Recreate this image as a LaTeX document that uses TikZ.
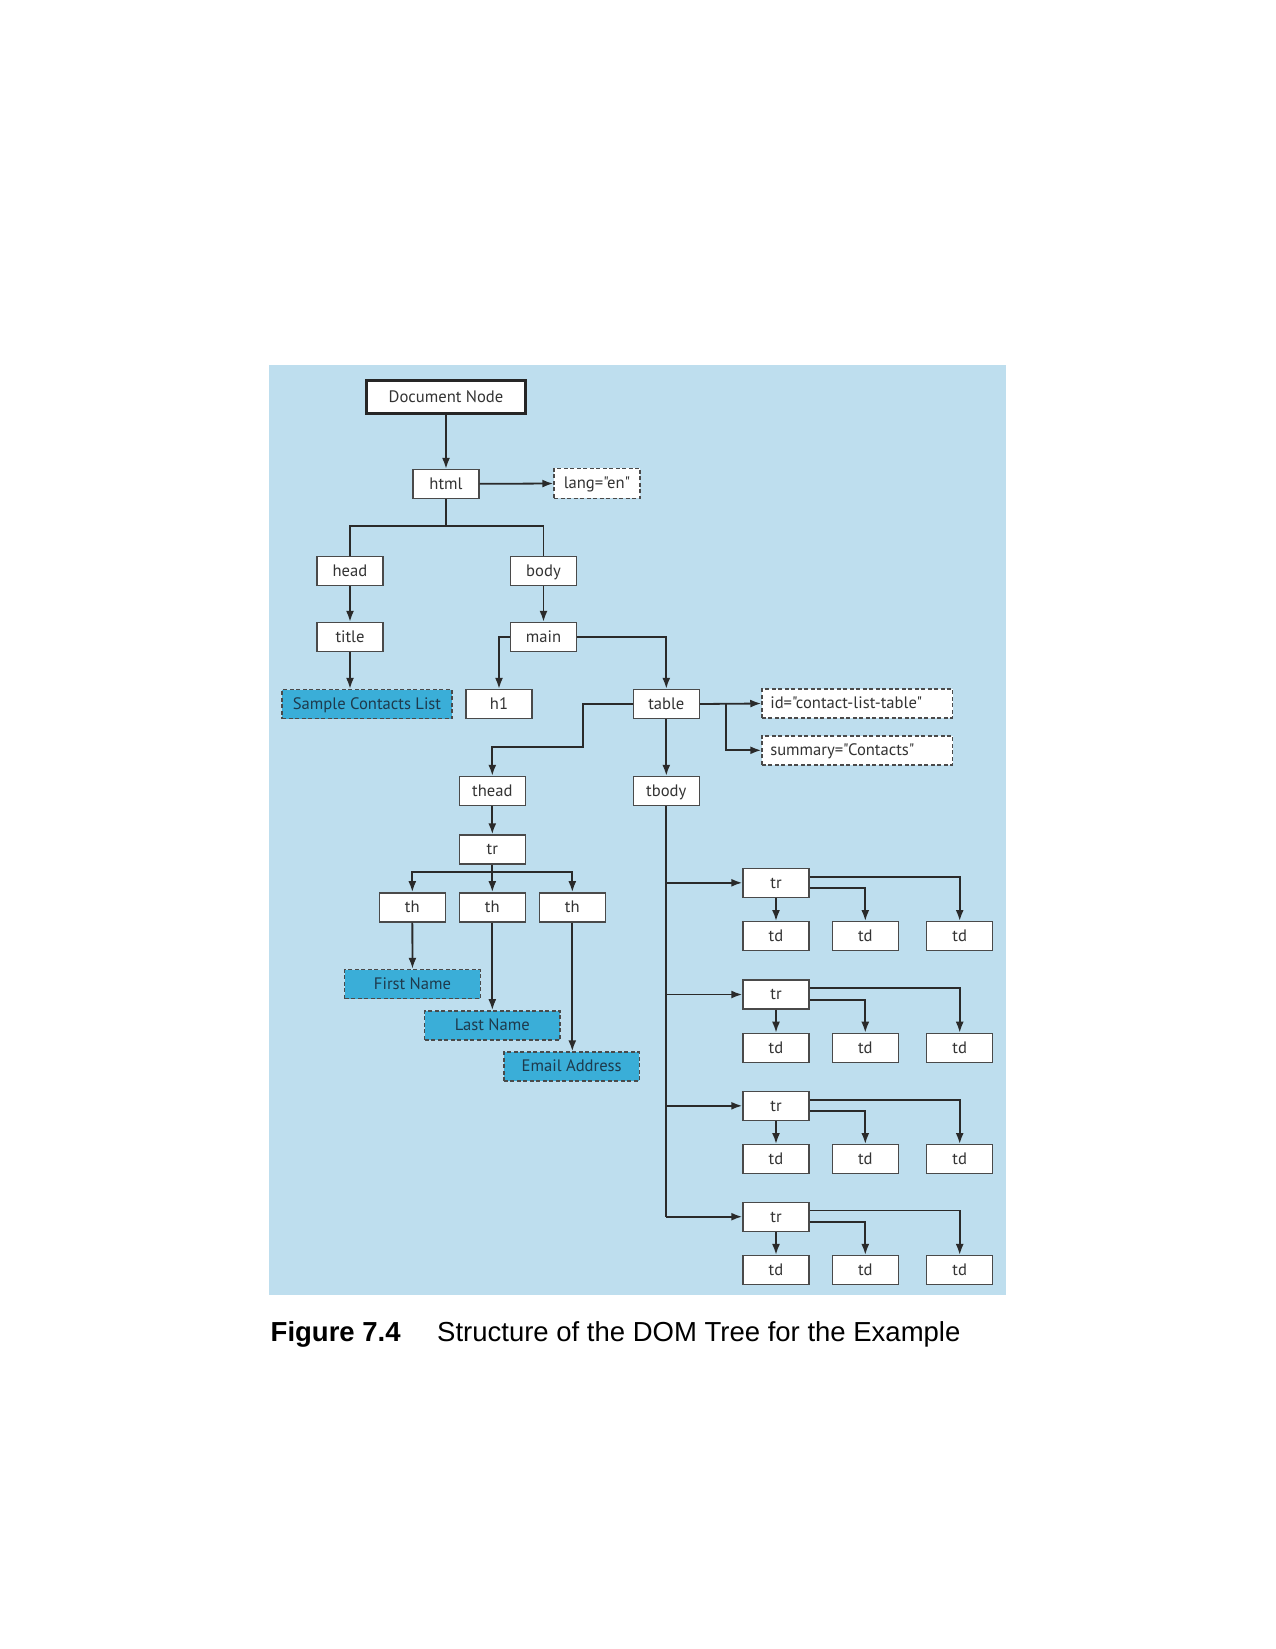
\documentclass[tikz,border=0pt]{standalone}
\usepackage{fontspec}
\setmainfont{Liberation Sans}
\newfontfamily\boxfont{PT Sans}
\usetikzlibrary{arrows.meta}
\definecolor{bgblue}{HTML}{BEDEEE}
\definecolor{hlblue}{HTML}{3AAED8}
\definecolor{boxline}{HTML}{4A4A4A}
\definecolor{linec}{HTML}{2A2A2A}
\definecolor{txtc}{HTML}{333333}
\definecolor{hltxt}{HTML}{1E3A4C}
\tikzset{
  box/.style={draw=boxline, fill=white, line width=1.4pt, minimum width=66pt, minimum height=29pt, inner sep=0pt, text height=12.6pt, text depth=2pt, font=\boxfont\fontsize{16.6}{19}\selectfont, text=txtc},
  attr/.style={box, dash pattern=on 4pt off 2.5pt},
  hl/.style={box, fill=hlblue, dash pattern=on 4pt off 2.5pt, minimum width=135.5pt, text=hltxt},
  conn/.style={draw=linec, line width=1.8pt, -{Latex[length=11pt,width=8pt]}},
  plain/.style={draw=linec, line width=1.8pt}
}
\begin{document}
\begin{tikzpicture}[x=1pt,y=-1pt]
\useasboundingbox (0,0) rectangle (1275,1649);
\fill[bgblue] (268.7,365) rectangle (1006,1295);

% nodes
\node[box, draw=black!85, line width=3pt, minimum width=159pt, minimum height=33pt] (doc) at (446,397) {Document Node};
\node[box] (html) at (446,484) {html};
\node[attr, minimum width=86pt, minimum height=30pt] (lang) at (597,483.3) {lang="en"};
\node[box] (head) at (350,571) {head};
\node[box] (body) at (543.5,571) {body};
\node[box] (title) at (350,637) {title};
\node[box] (main) at (543.5,637) {main};
\node[hl, minimum width=170pt] (scl) at (367,704) {Sample Contacts List};
\node[box] (h1) at (499,704) {h1};
\node[box] (table) at (666.3,704) {table};
\node[attr, minimum width=190.7pt, text width=174pt, align=left] (id) at (857.3,703.5) {id="contact-list-table"};
\node[attr, minimum width=190.7pt, text width=174pt, align=left] (summary) at (857.3,750.3) {summary="Contacts"};
\node[box] (thead) at (492.3,791) {thead};
\node[box] (tbody) at (666.3,791) {tbody};
\node[box] (trh) at (492.3,849.5) {tr};
\node[box] (th1) at (412.3,907.3) {th};
\node[box] (th2) at (492.3,907.3) {th};
\node[box] (th3) at (572.3,907.3) {th};
\node[hl] (fn) at (412.5,984) {First Name};
\node[hl] (ln) at (492.3,1025.3) {Last Name};
\node[hl] (ea) at (571.7,1066.5) {Email Address};

\foreach \i/\y in {1/882.8, 2/994.5, 3/1105.8, 4/1216.7} {
  \node[box] (tr\i) at (776,\y) {tr};
  \node[box] (tda\i) at (776,\y+53.4) {td};
  \node[box] (tdb\i) at (865.3,\y+53.4) {td};
  \node[box] (tdc\i) at (959.7,\y+53.4) {td};
}

% connectors
\draw[conn] (doc) -- (html);
\draw[conn] (html) -- (lang);
\coordinate (hb) at (446,526);
\draw[plain] (html.south) -- (hb) -| (head.north);
\draw[plain] (hb) -| (body.north);
\draw[conn] (head) -- (title);
\draw[conn] (title) -- (scl.north -| title);
\draw[conn] (body) -- (main);
\draw[conn] (main.west) -| (h1.north);
\draw[conn] (main.east) -| (table.north);
\coordinate (tl1) at (582.7,704);
\coordinate (tl2) at (582.7,746.7);
\draw[conn] (table.west) -- (tl1) -- (tl2) -| (thead.north);
\draw[conn] (table.east) -- (id.west);
\coordinate (tb) at (726,704);
\draw[conn] (tb) |- (summary.west);
\draw[conn] (table) -- (tbody);
\draw[conn] (thead) -- (trh);
\coordinate (thb) at (492.3,871.7);
\draw[conn] (trh.south) -- (thb) -| (th1.north);
\draw[conn] (thb) -| (th3.north);
\draw[conn] (thb) -- (th2.north);
\draw[conn] (th1) -- (fn);
\draw[conn] (th2) -- (ln);
\draw[conn] (th3.south) -- (ea.north -| th3);
\coordinate (tbend) at (666.3,1216.7);
\draw[plain] (tbody.south) -- (tbend);
\foreach \i in {1,2,3,4} {
  \draw[conn] (tr\i.west -| tbody) -- (tr\i.west);
  \draw[conn] (tr\i) -- (tda\i);
  \draw[conn] ([yshift=-5.5pt]tr\i.east) -| (tdb\i.north);
  \draw[conn] ([yshift=6.2pt]tr\i.east) -| (tdc\i.north);
}

% caption
\node[anchor=base west, inner sep=0pt, font=\fontsize{27.5}{30}\selectfont\bfseries] (fig) at (270.5,1341.7) {Figure 7.4};
\node[anchor=base west, inner sep=0pt, font=\fontsize{27.5}{30}\selectfont] (cap) at (437,1341.7) {Structure of the DOM Tree for the Example};
\end{tikzpicture}
\end{document}
